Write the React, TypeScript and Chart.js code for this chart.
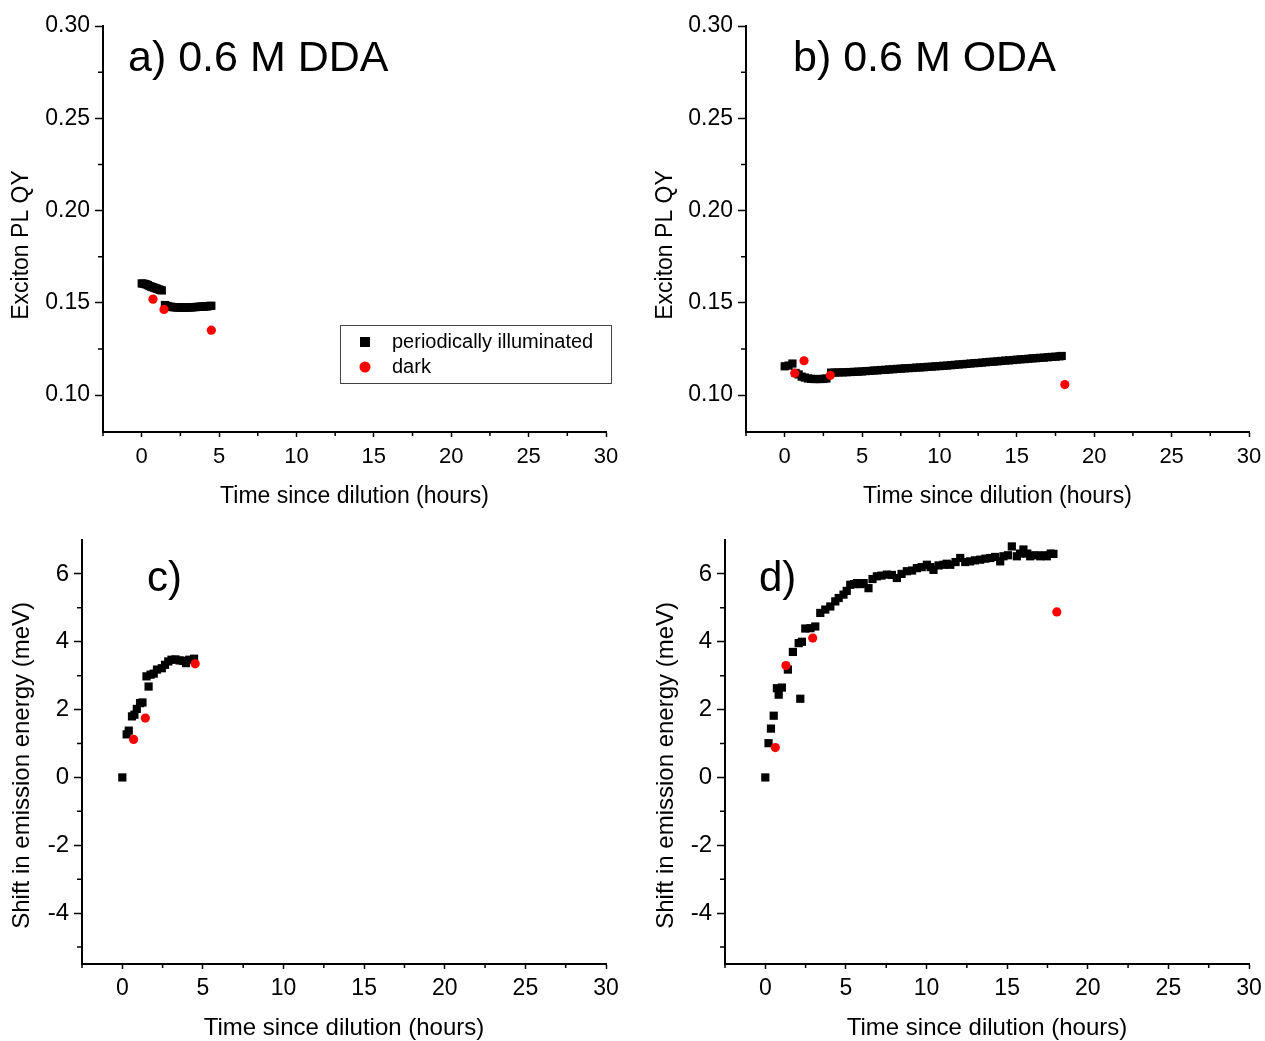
import React, { useEffect, useRef } from "react";
import { Chart, registerables } from "chart.js";

Chart.register(...registerables);

const FONT = '"Liberation Sans", Arial, Helvetica, sans-serif';

// ---------- Panel a) 0.6 M DDA : PL QY ----------
const aIllumT = [0.0, 0.1, 0.2, 0.3, 0.4, 0.5, 0.6, 0.7, 0.8, 0.9, 1.0, 1.1, 1.2, 1.3,
  1.5, 1.6, 1.7, 1.8, 1.9, 2.0, 2.1, 2.2, 2.3, 2.4, 2.5, 2.6, 2.7, 2.8, 2.9, 3.0,
  3.1, 3.2, 3.3, 3.4, 3.5, 3.6, 3.7, 3.8, 3.9, 4.0, 4.1, 4.2, 4.3, 4.4, 4.5];
const aIllumQY = [0.1605, 0.1604, 0.1602, 0.1600, 0.1596, 0.1591, 0.1588, 0.1585, 0.1582, 0.1579, 0.1576, 0.1573, 0.1570, 0.1567,
  0.1488, 0.1484, 0.1481, 0.1479, 0.1478, 0.1477, 0.1476, 0.1476, 0.1475, 0.1475, 0.1475, 0.1474, 0.1474, 0.1474, 0.1475, 0.1475,
  0.1475, 0.1476, 0.1476, 0.1477, 0.1477, 0.1478, 0.1478, 0.1479, 0.1479, 0.1480, 0.1481, 0.1481, 0.1482, 0.1483, 0.1484];
const aDarkT = [0.73, 1.44, 4.5];
const aDarkQY = [0.152, 0.1464, 0.1352];

// ---------- Panel b) 0.6 M ODA : PL QY ----------
const bIllumT = [0.0, 0.25, 0.5, 0.7, 0.9, 1.1, 1.3, 1.5, 1.7, 1.9, 2.1, 2.3, 2.5, 2.7,
  3.0, 3.25, 3.5, 3.75, 4.0, 4.25, 4.5, 4.75, 5.0, 5.25, 5.5, 5.75, 6.0, 6.25, 6.5, 6.75,
  7.0, 7.25, 7.5, 7.75, 8.0, 8.25, 8.5, 8.75, 9.0, 9.25, 9.5, 9.75, 10.0, 10.25, 10.5, 10.75,
  11.0, 11.25, 11.5, 11.75, 12.0, 12.25, 12.5, 12.75, 13.0, 13.25, 13.5, 13.75, 14.0, 14.25,
  14.5, 14.75, 15.0, 15.25, 15.5, 15.75, 16.0, 16.25, 16.5, 16.75, 17.0, 17.25, 17.5, 17.75, 17.9];
const bIllumQY = [0.1156, 0.1160, 0.1171, 0.1120, 0.1112, 0.1100, 0.1095, 0.1090, 0.1088, 0.1087, 0.1087, 0.1087, 0.1088, 0.1090,
  0.1122, 0.1122, 0.1123, 0.1123, 0.1124, 0.1125, 0.1126, 0.1127, 0.1128, 0.1130, 0.1131, 0.1133, 0.1134, 0.1136, 0.1137, 0.1139,
  0.1140, 0.1142, 0.1143, 0.1145, 0.1146, 0.1147, 0.1149, 0.1150, 0.1151, 0.1153, 0.1154, 0.1156, 0.1157, 0.1159, 0.1160, 0.1162,
  0.1164, 0.1166, 0.1167, 0.1169, 0.1171, 0.1173, 0.1174, 0.1176, 0.1178, 0.1180, 0.1181, 0.1183, 0.1185, 0.1187,
  0.1188, 0.1190, 0.1192, 0.1194, 0.1195, 0.1197, 0.1199, 0.1200, 0.1202, 0.1203, 0.1205, 0.1207, 0.1208, 0.1210, 0.1212];
const bDarkT = [0.65, 1.25, 2.95, 18.1];
const bDarkQY = [0.1119, 0.1186, 0.1107, 0.1057];

// ---------- Panel c) DDA : emission shift ----------
const cIllumT = [0.0, 0.27, 0.4, 0.6, 0.75, 0.9, 1.1, 1.25, 1.5, 1.63, 1.75, 1.95, 2.15, 2.45, 2.65, 2.85,
  3.05, 3.3, 3.55, 3.75, 3.95, 4.15, 4.45];
const cIllumShift = [0.0, 1.27, 1.38, 1.80, 1.85, 2.02, 2.19, 2.21, 2.98, 2.68, 3.03, 3.06, 3.18, 3.22, 3.32, 3.42,
  3.47, 3.48, 3.45, 3.44, 3.37, 3.47, 3.50];
const cDarkT = [0.7, 1.43, 4.52];
const cDarkShift = [1.12, 1.75, 3.35];

// ---------- Panel d) ODA : emission shift ----------
const dIllumT = [0.0, 0.2, 0.35, 0.52, 0.72, 0.83, 1.03, 1.4, 1.71, 2.07, 2.17, 2.27, 2.48, 2.8, 3.1, 3.41,
  3.72, 4.03, 4.34, 4.55, 4.85, 5.05, 5.27, 5.5, 5.68, 5.9, 6.1, 6.4, 6.65, 6.92, 7.2, 7.54,
  7.85, 8.16, 8.45, 8.78, 9.1, 9.4, 9.7, 10.02, 10.25, 10.43, 10.75, 11.05, 11.25, 11.47, 11.8, 12.09,
  12.4, 12.7, 13.0, 13.33, 13.65, 13.95, 14.25, 14.57, 14.77, 15.05, 15.29, 15.6, 15.8, 16.01,
  16.25, 16.43, 16.75, 17.05, 17.25, 17.46, 17.7, 17.87];
const dIllumShift = [0.0, 1.01, 1.44, 1.82, 2.63, 2.44, 2.65, 3.18, 3.70, 3.96, 2.32, 4.0, 4.39, 4.40, 4.45, 4.85,
  4.95, 5.04, 5.19, 5.29, 5.39, 5.50, 5.68, 5.70, 5.73, 5.70, 5.73, 5.58, 5.85, 5.93, 5.95, 5.98,
  5.97, 5.88, 6.0, 6.08, 6.10, 6.17, 6.20, 6.27, 6.20, 6.12, 6.25, 6.27, 6.30, 6.27, 6.35, 6.47,
  6.35, 6.37, 6.40, 6.42, 6.45, 6.47, 6.50, 6.37, 6.52, 6.55, 6.81, 6.52, 6.60, 6.72,
  6.60, 6.52, 6.55, 6.52, 6.55, 6.52, 6.60, 6.59];
const dDarkT = [0.62, 1.28, 2.94, 18.08];
const dDarkShift = [0.88, 3.30, 4.11, 4.88];

// ---------- Axes / labels ----------
const xMajorTicks = [0, 5, 10, 15, 20, 25, 30];
const xMinorTicks = [-2.5, 2.5, 7.5, 12.5, 17.5, 22.5, 27.5];
const qyMajorTicks = [0.1, 0.15, 0.2, 0.25, 0.3];
const qyMinorTicks = [0.125, 0.175, 0.225, 0.275];
const shiftMajorTicks = [-4, -2, 0, 2, 4, 6];
const shiftMinorTicks = [-5, -3, -1, 1, 3, 5];

const seriesLabels = ["periodically illuminated", "dark"];
const seriesColors = ["#000000", "#ff0000"];
const panelLabels = ["a) 0.6 M DDA", "b) 0.6 M ODA", "c)", "d)"];
const xTitle = "Time since dilution (hours)";
const qyTitle = "Exciton PL QY";
const shiftTitle = "Shift in emission energy (meV)";

interface PanelSpec {
  left: number; top: number; width: number; height: number;
  yAxisWidth: number; xAxisHeight: number; padTop: number; padRight: number;
  illumT: number[]; illumY: number[]; darkT: number[]; darkY: number[];
  yMin: number; yMax: number; yMajor: number[]; yMinor: number[]; yDecimals: number;
  yTitle: string; yTitlePad: number; xTitlePad: number; titleSize: number; xTickPad: number;
  xTickSize: number; yTickSize: number;
  label: string; labelX: number; labelY: number; labelSize: number; legend: boolean;
}

const panels: PanelSpec[] = [
  {
    left: 0, top: 0, width: 640, height: 520, yAxisWidth: 103, xAxisHeight: 88, padTop: 26, padRight: 34,
    illumT: aIllumT, illumY: aIllumQY, darkT: aDarkT, darkY: aDarkQY,
    yMin: 0.08, yMax: 0.3, yMajor: qyMajorTicks, yMinor: qyMinorTicks, yDecimals: 2,
    yTitle: qyTitle + "     ", yTitlePad: 8, xTitlePad: 10, titleSize: 23, xTickPad: 7,
    xTickSize: 22, yTickSize: 23,
    label: panelLabels[0], labelX: 128, labelY: 71, labelSize: 43, legend: true,
  },
  {
    left: 640, top: 0, width: 640, height: 520, yAxisWidth: 106, xAxisHeight: 88, padTop: 26, padRight: 31,
    illumT: bIllumT, illumY: bIllumQY, darkT: bDarkT, darkY: bDarkQY,
    yMin: 0.08, yMax: 0.3, yMajor: qyMajorTicks, yMinor: qyMinorTicks, yDecimals: 2,
    yTitle: qyTitle + "     ", yTitlePad: 12, xTitlePad: 10, titleSize: 23, xTickPad: 7,
    xTickSize: 22, yTickSize: 23,
    label: panelLabels[1], labelX: 153, labelY: 71, labelSize: 43, legend: false,
  },
  {
    left: 0, top: 520, width: 640, height: 521, yAxisWidth: 82, xAxisHeight: 77, padTop: 20, padRight: 34,
    illumT: cIllumT, illumY: cIllumShift, darkT: cDarkT, darkY: cDarkShift,
    yMin: -5.5, yMax: 7, yMajor: shiftMajorTicks, yMinor: shiftMinorTicks, yDecimals: 0,
    yTitle: shiftTitle + "    ", yTitlePad: 8, xTitlePad: -2, titleSize: 24, xTickPad: 6,
    xTickSize: 23, yTickSize: 24,
    label: panelLabels[2], labelX: 147, labelY: 71, labelSize: 42, legend: false,
  },
  {
    left: 640, top: 520, width: 640, height: 521, yAxisWidth: 85, xAxisHeight: 77, padTop: 20, padRight: 31,
    illumT: dIllumT, illumY: dIllumShift, darkT: dDarkT, darkY: dDarkShift,
    yMin: -5.5, yMax: 7, yMajor: shiftMajorTicks, yMinor: shiftMinorTicks, yDecimals: 0,
    yTitle: shiftTitle + "    ", yTitlePad: 12, xTitlePad: -2, titleSize: 24, xTickPad: 6,
    xTickSize: 23, yTickSize: 24,
    label: panelLabels[3], labelX: 119, labelY: 71, labelSize: 42, legend: false,
  },
];

function makeDecor(spec: PanelSpec) {
  return {
    id: "decor",
    afterDraw(chart: any) {
      const ctx = chart.ctx as CanvasRenderingContext2D;
      const xs = chart.scales.x;
      const ys = chart.scales.y;
      const area = chart.chartArea;
      ctx.save();
      ctx.strokeStyle = "#000";
      ctx.lineWidth = 1.5;
      ctx.beginPath();
      for (const v of xMinorTicks) {
        const px = xs.getPixelForValue(v);
        ctx.moveTo(px, area.bottom);
        ctx.lineTo(px, area.bottom + 4);
      }
      for (const v of spec.yMinor) {
        const py = ys.getPixelForValue(v);
        ctx.moveTo(area.left, py);
        ctx.lineTo(area.left - 5, py);
      }
      ctx.stroke();

      ctx.fillStyle = "#000";
      ctx.textAlign = "left";
      ctx.textBaseline = "alphabetic";
      ctx.font = `${spec.labelSize}px ${FONT}`;
      ctx.fillText(spec.label, spec.labelX, spec.labelY);

      if (spec.legend) {
        ctx.strokeStyle = "#444";
        ctx.lineWidth = 1;
        ctx.strokeRect(340.5, 325.5, 271, 58);
        ctx.fillStyle = seriesColors[0];
        ctx.fillRect(360, 337, 10, 10);
        ctx.fillStyle = seriesColors[1];
        ctx.beginPath();
        ctx.arc(365, 367, 5.5, 0, Math.PI * 2);
        ctx.fill();
        ctx.fillStyle = "#000";
        ctx.font = `20px ${FONT}`;
        ctx.textBaseline = "middle";
        ctx.fillText(seriesLabels[0], 392, 342);
        ctx.fillText(seriesLabels[1], 392, 367);
      }
      ctx.restore();
    },
  };
}

function Panel({ spec }: { spec: PanelSpec }) {
  const ref = useRef<HTMLCanvasElement | null>(null);
  useEffect(() => {
    if (!ref.current) return;
    const illum = spec.illumT.map((t, i) => ({ x: t, y: spec.illumY[i] }));
    const dark = spec.darkT.map((t, i) => ({ x: t, y: spec.darkY[i] }));
    const chart = new Chart(ref.current, {
      type: "scatter",
      data: {
        datasets: [
          {
            label: seriesLabels[0], data: illum, order: 2,
            pointStyle: "rect", pointRadius: 5.8, pointBorderWidth: 0,
            backgroundColor: seriesColors[0], borderColor: seriesColors[0],
          },
          {
            label: seriesLabels[1], data: dark, order: 1,
            pointStyle: "circle", pointRadius: 4.6, pointBorderWidth: 0,
            backgroundColor: seriesColors[1], borderColor: seriesColors[1],
          },
        ],
      },
      options: {
        responsive: false,
        animation: false,
        events: [],
        layout: { padding: { left: 0, top: spec.padTop, right: spec.padRight, bottom: 0 } },
        plugins: { legend: { display: false }, tooltip: { enabled: false } },
        scales: {
          x: {
            type: "linear", min: -2.5, max: 30,
            afterBuildTicks: (s: any) => { s.ticks = xMajorTicks.map((v) => ({ value: v })); },
            afterFit: (s: any) => { s.height = spec.xAxisHeight; },
            ticks: { color: "#000", font: { family: FONT, size: spec.xTickSize }, padding: spec.xTickPad, maxRotation: 0, callback: (v: any) => String(v) },
            grid: { drawOnChartArea: false, drawTicks: true, tickLength: 5, tickColor: "#000", tickWidth: 1.5 },
            border: { display: true, color: "#000", width: 2 },
            title: { display: true, text: xTitle, color: "#000", font: { family: FONT, size: spec.titleSize }, padding: { top: 0, bottom: spec.xTitlePad } },
          },
          y: {
            type: "linear", min: spec.yMin, max: spec.yMax,
            afterBuildTicks: (s: any) => { s.ticks = spec.yMajor.map((v) => ({ value: v })); },
            afterFit: (s: any) => { s.width = spec.yAxisWidth; },
            ticks: { color: "#000", font: { family: FONT, size: spec.yTickSize }, padding: 5, callback: (v: any) => Number(v).toFixed(spec.yDecimals) },
            grid: { drawOnChartArea: false, drawTicks: true, tickLength: 8, tickColor: "#000", tickWidth: 1.5 },
            border: { display: true, color: "#000", width: 2 },
            title: { display: true, text: spec.yTitle, color: "#000", font: { family: FONT, size: spec.titleSize }, padding: { top: spec.yTitlePad, bottom: 0 } },
          },
        },
      } as any,
      plugins: [makeDecor(spec)],
    });
    return () => chart.destroy();
  }, [spec]);
  return (
    <canvas
      ref={ref}
      width={spec.width}
      height={spec.height}
      style={{ position: "absolute", left: spec.left, top: spec.top, width: spec.width, height: spec.height }}
    />
  );
}

export default function App() {
  return (
    <div style={{ position: "absolute", left: 0, top: 0, width: 1265, height: 1041, overflow: "hidden", background: "#fff" }}>
      {panels.map((p, i) => (
        <Panel key={i} spec={p} />
      ))}
    </div>
  );
}
